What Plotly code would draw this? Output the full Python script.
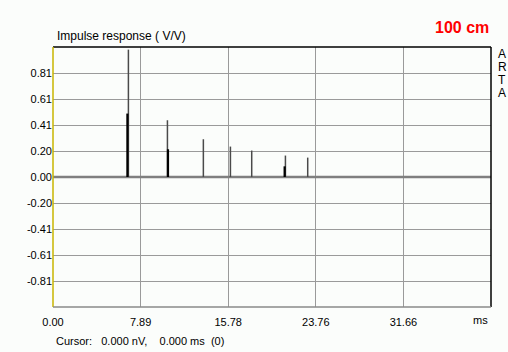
import plotly.graph_objects as go

# Data
outer_t = [6.80, 10.32, 13.56, 16.00, 17.92, 20.96, 22.97]
outer_v = [0.992, 0.442, 0.294, 0.237, 0.206, 0.167, 0.151]
inner_t = [6.71, 10.37, 20.89]
inner_v = [0.494, 0.216, 0.083]

x_tickvals = [0.0, 7.9, 15.8, 23.7, 31.6, 39.5]
x_ticktext = ["0.00", "7.89", "15.78", "23.76", "31.66", ""]
y_tickvals = [-0.81, -0.6075, -0.405, -0.2025, 0.0, 0.2025, 0.405, 0.6075, 0.81]
y_ticktext = ["-0.81", "-0.61", "-0.41", "-0.20", "0.00", "0.20", "0.41", "0.61", "0.81"]
y_range = [-1.0125, 1.0125]
x_range = [0.0, 39.5]
side_letters = ["A", "R", "T", "A"]


def stems(ts, vs):
    xs, ys = [], []
    for t, v in zip(ts, vs):
        xs += [t, t, None]
        ys += [0, v, None]
    return xs, ys


FONT = "Liberation Sans, Arial, sans-serif"
bg = "#fbfdfb"

fig = go.Figure()
# zero line
fig.add_trace(go.Scatter(x=x_range, y=[0, 0], mode="lines",
                         line=dict(color="#7f7f7f", width=2.5), hoverinfo="skip"))
ox, oy = stems(outer_t, outer_v)
fig.add_trace(go.Scatter(x=ox, y=oy, mode="lines",
                         line=dict(color="#4a4a4a", width=1.5), hoverinfo="skip"))
ix, iy = stems(inner_t, inner_v)
fig.add_trace(go.Scatter(x=ix, y=iy, mode="lines",
                         line=dict(color="#000000", width=2.2), hoverinfo="skip"))

annotations = [
    dict(text="Impulse response ( V/V)", xref="paper", yref="paper",
         x=0.005, y=1.0, xanchor="left", yanchor="bottom", yshift=2,
         showarrow=False, font=dict(family=FONT, size=12, color="#000")),
    dict(text="<b>100 cm</b>", xref="paper", yref="paper",
         x=1.0, y=1.0, xanchor="right", yanchor="bottom", yshift=9,
         showarrow=False, font=dict(family=FONT, size=16, color="#ff0000")),
    dict(text="ms", xref="paper", yref="paper",
         x=1.0, y=0, xanchor="right", yanchor="top", xshift=-1, yshift=-5,
         showarrow=False, font=dict(family=FONT, size=11, color="#000")),
    dict(text="Cursor:&nbsp;&nbsp;&nbsp;0.000 nV,&nbsp;&nbsp;&nbsp;&nbsp;0.000 ms&nbsp;&nbsp;(0)",
         xref="paper", yref="paper",
         x=0.0, y=0, xanchor="left", yanchor="top", xshift=1, yshift=-26,
         showarrow=False, font=dict(family=FONT, size=11, color="#000")),
]
for i, ch in enumerate(side_letters):
    annotations.append(dict(text=ch, xref="paper", yref="paper",
                            x=1.0, y=1.0, xanchor="left", yanchor="middle",
                            xshift=5, yshift=-7 - 13 * i, showarrow=False,
                            font=dict(family=FONT, size=12, color="#000")))

fig.update_layout(
    width=508, height=352,
    margin=dict(l=53, r=17, t=47, b=45),
    paper_bgcolor=bg, plot_bgcolor=bg,
    showlegend=False,
    font=dict(family=FONT, size=11, color="#000"),
    xaxis=dict(range=x_range, tickvals=x_tickvals, ticktext=x_ticktext,
               showgrid=True, gridcolor="#9a9a9a", gridwidth=1.2,
               zeroline=False, showline=False, ticks="", ticklen=0,
               ticklabelstandoff=7,
               tickfont=dict(family=FONT, size=11, color="#000")),
    yaxis=dict(range=y_range, tickvals=y_tickvals, ticktext=y_ticktext,
               showgrid=True, gridcolor="#9a9a9a", gridwidth=1.2,
               zeroline=False, showline=False, ticks="", ticklen=0,
               tickfont=dict(family=FONT, size=11, color="#000")),
    shapes=[
        dict(type="line", xref="paper", yref="paper", x0=0, x1=1, y0=1, y1=1,
             line=dict(color="#000", width=1.5)),
        dict(type="line", xref="paper", yref="paper", x0=1, x1=1, y0=0, y1=1,
             line=dict(color="#000", width=1.5)),
        dict(type="line", xref="paper", yref="paper", x0=0, x1=0, y0=0, y1=1,
             line=dict(color="#c8b400", width=1.5)),
        dict(type="line", xref="paper", yref="paper", x0=0, x1=1, y0=0, y1=0,
             line=dict(color="#8a8a8a", width=1.5)),
    ],
    annotations=annotations,
)

fig.write_html("out.html")
